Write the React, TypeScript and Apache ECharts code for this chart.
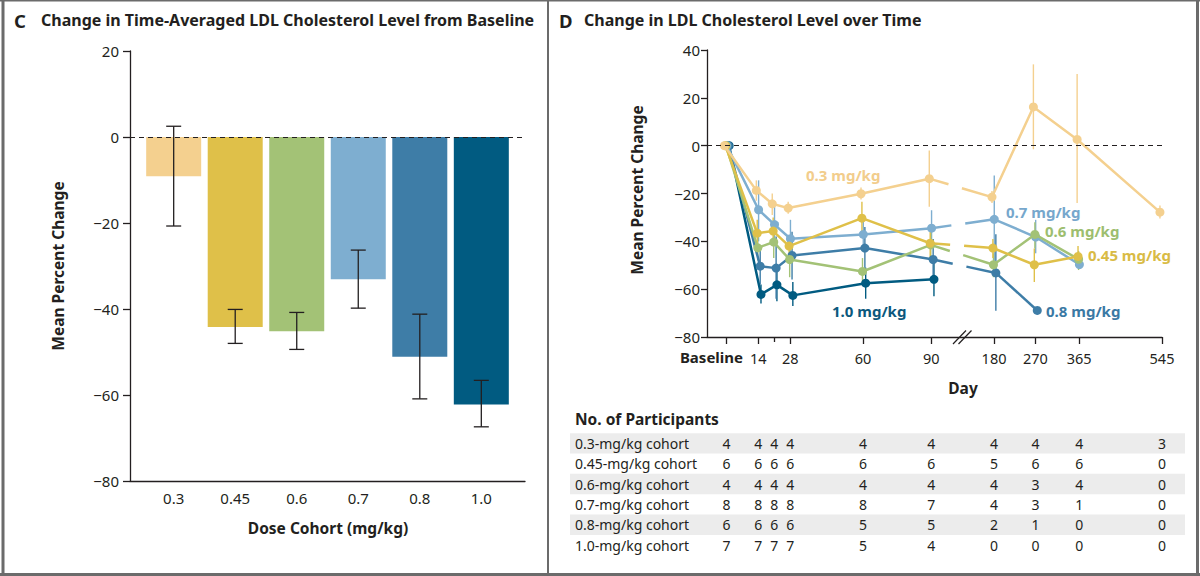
import React, { useEffect, useRef } from "react";
import * as echarts from "echarts";

// ---------- Panel C data ----------
const DOSE_COHORTS = ["0.3", "0.45", "0.6", "0.7", "0.8", "1.0"];
const COHORT_COLORS = ["#F4D08F", "#DFC049", "#A3C276", "#7EAED0", "#3E7DA7", "#015B81"];
const AVG_CHANGE = [-9.1, -44.2, -45.2, -33.1, -51.1, -62.2];
const AVG_ERR_HIGH = [2.5, -40.1, -40.8, -26.3, -41.2, -56.6];
const AVG_ERR_LOW = [-20.7, -48.0, -49.4, -39.8, -60.9, -67.4];

// ---------- Panel D data ----------
const VISIT_DAYS = [0, 14, 21, 28, 60, 90, 180, 270, 365, 545];
const DAY_LABEL_DAYS = [14, 28, 60, 90, 180, 270, 365, 545];
const BASELINE_LABEL = "Baseline";

const MEAN_03 = [0, -18.7, -24.3, -26.1, -20.1, -13.8, -21.5, 16.2, 2.6, -27.8];
const MEAN_045 = [0, -36.6, -35.7, -42.0, -30.3, -40.8, -42.8, -49.8, -46.3, null];
const MEAN_06 = [0, -42.7, -40.3, -47.6, -52.6, -41.5, -49.8, -37.1, -47.5, null];
const MEAN_07 = [0, -26.8, -33.0, -38.9, -37.1, -34.5, -30.8, -38.2, -49.7, null];
const MEAN_08 = [0, -50.4, -51.2, -45.9, -42.8, -47.6, -53.2, -68.9, null, null];
const MEAN_10 = [0, -62.2, -58.2, -62.6, -57.5, -55.9, null, null, null, null];

const ERR_LOW_03 = [null, -23, -29, -28.5, -22.5, -25.5, -24, -1.5, -24, -30.5];
const ERR_HIGH_03 = [null, -14.5, -20, -23.5, -17.5, -2, -19, 34, 30, -25];
const ERR_LOW_045 = [null, -42, -41, -46, -37, -47, -47, -57, -50, null];
const ERR_HIGH_045 = [null, -31, -30, -38, -23.5, -35, -39, -43, -42, null];
const ERR_LOW_06 = [null, -48, -47, -55, -58, -48, -55, -43, -52, null];
const ERR_HIGH_06 = [null, -37, -34, -40, -47, -35, -45, -32, -44, null];
const ERR_LOW_07 = [null, -40, -40, -46, -44, -42, -50, -45, null, null];
const ERR_HIGH_07 = [null, -14.5, -24, -31, -30, -27, -12.5, -31, null, null];
const ERR_LOW_08 = [null, -58, -64, -56, -52, -56, -69, null, null, null];
const ERR_HIGH_08 = [null, -43, -38, -36, -34, -39, -37, null, null, null];
const ERR_LOW_10 = [null, -66, -65, -67, -64, -63, null, null, null, null];
const ERR_HIGH_10 = [null, -58, -51, -57, -51, -48, null, null, null, null];

const MEANS = [MEAN_03, MEAN_045, MEAN_06, MEAN_07, MEAN_08, MEAN_10];
const ERR_LOWS = [ERR_LOW_03, ERR_LOW_045, ERR_LOW_06, ERR_LOW_07, ERR_LOW_08, ERR_LOW_10];
const ERR_HIGHS = [ERR_HIGH_03, ERR_HIGH_045, ERR_HIGH_06, ERR_HIGH_07, ERR_HIGH_08, ERR_HIGH_10];
const SERIES_LABELS = ["0.3 mg/kg", "0.45 mg/kg", "0.6 mg/kg", "0.7 mg/kg", "0.8 mg/kg", "1.0 mg/kg"];

// ---------- Participants table ----------
const TABLE_ROWS = [
  "0.3-mg/kg cohort",
  "0.45-mg/kg cohort",
  "0.6-mg/kg cohort",
  "0.7-mg/kg cohort",
  "0.8-mg/kg cohort",
  "1.0-mg/kg cohort",
];
const N_03 = [4, 4, 4, 4, 4, 4, 4, 4, 4, 3];
const N_045 = [6, 6, 6, 6, 6, 6, 5, 6, 6, 0];
const N_06 = [4, 4, 4, 4, 4, 4, 4, 3, 4, 0];
const N_07 = [8, 8, 8, 8, 8, 7, 4, 3, 1, 0];
const N_08 = [6, 6, 6, 6, 5, 5, 2, 1, 0, 0];
const N_10 = [7, 7, 7, 7, 5, 4, 0, 0, 0, 0];
const TABLE_VALUES = [N_03, N_045, N_06, N_07, N_08, N_10];

// ---------- layout / style ----------
const FONT = '"Noto Sans", "DejaVu Sans", sans-serif';
const INK = "#231f20";
const FRAME = "#6b6b6b";
const TEXT_COLORS = ["#F2CD8C", "#D9BB45", "#9DBE6F", "#76A7CC", "#3A79A4", "#0B587D"];
// axis break: day values beyond the break are compressed
const BREAK_T = 117.55;
const SECOND_SCALE = 0.2022;
const tOf = (d: number) => (d <= 90 ? d : BREAK_T + (d - 180) * SECOND_SCALE);
const T_MIN = -8.57;
const T_MAX = tOf(545);
// small horizontal offsets so overlapping markers stay visible
const JITTER = [-0.9, -0.5, -0.25, 0.1, 0.8, 1.15];
const LABEL_POS = [
  [806, 175],
  [1088, 255],
  [1045, 231],
  [1006, 212],
  [1046, 311],
  [832, 311],
];

const minus = (v: number) => (v < 0 ? "\u2212" + Math.abs(v) : String(v));

function buildOption() {
  const series: any[] = [];

  // Panel C bars
  series.push({
    type: "bar",
    xAxisIndex: 0,
    yAxisIndex: 0,
    barWidth: 55,
    data: AVG_CHANGE.map((v, i) => ({ value: [i + 1, v], itemStyle: { color: COHORT_COLORS[i] } })),
    markLine: {
      silent: true,
      symbol: "none",
      label: { show: false },
      lineStyle: { type: [5, 4], color: INK, width: 1.2 },
      data: [{ yAxis: 0 }],
    },
    z: 2,
  });
  series.push({
    type: "custom",
    xAxisIndex: 0,
    yAxisIndex: 0,
    data: AVG_CHANGE.map((_, i) => [i + 1, AVG_ERR_LOW[i], AVG_ERR_HIGH[i]]),
    encode: { x: 0, y: [1, 2] },
    renderItem: (_p: any, api: any) => {
      const x = api.value(0);
      const a = api.coord([x, api.value(1)]);
      const b = api.coord([x, api.value(2)]);
      const hw = 7.5;
      const st = { stroke: INK, lineWidth: 1.3 };
      return {
        type: "group",
        children: [
          { type: "line", shape: { x1: a[0], y1: a[1], x2: b[0], y2: b[1] }, style: st },
          { type: "line", shape: { x1: a[0] - hw, y1: a[1], x2: a[0] + hw, y2: a[1] }, style: st },
          { type: "line", shape: { x1: b[0] - hw, y1: b[1], x2: b[0] + hw, y2: b[1] }, style: st },
        ],
      };
    },
    z: 5,
  });

  // Panel D zero line
  series.push({
    type: "line",
    xAxisIndex: 1,
    yAxisIndex: 1,
    data: [],
    markLine: {
      silent: true,
      symbol: "none",
      label: { show: false },
      lineStyle: { type: [5, 4], color: INK, width: 1.2 },
      data: [{ yAxis: 0 }],
    },
    z: 1,
  });

  // Panel D series, drawn darkest first
  const order = [5, 4, 3, 2, 1, 0];
  order.forEach((c, k) => {
    const color = COHORT_COLORS[c];
    const mean = MEANS[c];
    const px = (i: number) => tOf(VISIT_DAYS[i]) + JITTER[c];
    const errData: any[] = [];
    VISIT_DAYS.forEach((_, i) => {
      if (mean[i] != null && ERR_LOWS[c][i] != null) errData.push([px(i), ERR_LOWS[c][i], ERR_HIGHS[c][i]]);
    });
    series.push({
      type: "custom",
      xAxisIndex: 1,
      yAxisIndex: 1,
      data: errData,
      encode: { x: 0, y: [1, 2] },
      renderItem: (_p: any, api: any) => {
        const x = api.value(0);
        const a = api.coord([x, api.value(1)]);
        const b = api.coord([x, api.value(2)]);
        return {
          type: "line",
          shape: { x1: a[0], y1: a[1], x2: b[0], y2: b[1] },
          style: { stroke: color, lineWidth: 1.4 },
        };
      },
      z: 2 + k * 0.01,
    });
    const segA: any[] = [];
    const segC: any[] = [];
    VISIT_DAYS.forEach((d, i) => {
      if (mean[i] == null) return;
      if (d <= 90) segA.push([px(i), mean[i]]);
      else segC.push([px(i), mean[i]]);
    });
    const common = {
      type: "line",
      xAxisIndex: 1,
      yAxisIndex: 1,
      symbol: "circle",
      symbolSize: 9,
      itemStyle: { color },
      lineStyle: { color, width: 2.5 },
      z: 3 + k * 0.1,
    };
    series.push({ ...common, data: segA });
    if (segC.length) {
      series.push({ ...common, data: segC });
      series.push({
        ...common,
        symbol: "none",
        data: [
          [px(5), mean[5]],
          [px(6), mean[6]],
        ],
        lineStyle: { color, width: 2.5, type: [20, 14, 200] },
      });
    }
  });

  const tickDays = VISIT_DAYS.filter((d) => d !== 21).map(tOf);
  const labelT = DAY_LABEL_DAYS.map(tOf);

  return {
    animation: false,
    backgroundColor: "#ffffff",
    textStyle: { fontFamily: FONT },
    grid: [
      { left: 130, top: 51, width: 395, height: 430 },
      { left: 707, top: 50, width: 455, height: 287 },
    ],
    xAxis: [
      {
        gridIndex: 0,
        type: "value",
        position: "bottom",
        min: 0.29,
        max: 6.71,
        axisLine: { onZero: false, lineStyle: { color: INK, width: 1.3 } },
        axisTick: { show: false },
        splitLine: { show: false },
        axisLabel: {
          customValues: [1, 2, 3, 4, 5, 6],
          formatter: (v: number) => DOSE_COHORTS[Math.round(v) - 1],
          fontSize: 15,
          color: INK,
          margin: 9,
          fontFamily: FONT,
        },
      },
      {
        gridIndex: 1,
        type: "value",
        position: "bottom",
        min: T_MIN,
        max: T_MAX,
        axisLine: { onZero: false, lineStyle: { color: INK, width: 1.3 } },
        axisTick: { customValues: tickDays, length: 7, lineStyle: { color: INK, width: 1.3 } },
        splitLine: { show: false },
        axisLabel: {
          customValues: labelT,
          formatter: (v: number) => {
            const idx = labelT.findIndex((t) => Math.abs(t - v) < 0.01);
            return idx >= 0 ? String(DAY_LABEL_DAYS[idx]) : "";
          },
          fontSize: 14.5,
          color: INK,
          margin: 13,
          fontFamily: FONT,
        },
      },
      {
        gridIndex: 1,
        type: "value",
        position: "bottom",
        offset: 0,
        min: T_MIN,
        max: T_MAX,
        axisLine: { show: false, onZero: false },
        axisTick: { customValues: [tOf(21)], length: 5, lineStyle: { color: INK, width: 1.3 } },
        splitLine: { show: false },
        axisLabel: { show: false },
      },
    ],
    yAxis: [
      {
        gridIndex: 0,
        type: "value",
        min: -80,
        max: 20,
        interval: 20,
        axisLine: { show: true, onZero: false, lineStyle: { color: INK, width: 1.3 } },
        axisTick: { show: true, length: 7, lineStyle: { color: INK, width: 1.3 } },
        splitLine: { show: false },
        axisLabel: { formatter: minus, fontSize: 15, color: INK, margin: 11, fontFamily: FONT },
      },
      {
        gridIndex: 1,
        type: "value",
        min: -80,
        max: 40,
        interval: 20,
        axisLine: { show: true, onZero: false, lineStyle: { color: INK, width: 1.3 } },
        axisTick: { show: true, length: 6, lineStyle: { color: INK, width: 1.3 } },
        splitLine: { show: false },
        axisLabel: { formatter: minus, fontSize: 15, color: INK, margin: 7, fontFamily: FONT },
      },
    ],
    series,
  };
}

function txt(text: string, x: number, y: number, size: number, opts: any = {}) {
  return {
    type: "text",
    x,
    y,
    rotation: opts.rotation || 0,
    silent: true,
    z: 100,
    style: {
      text,
      fill: opts.color || INK,
      font: `${opts.bold ? "bold " : ""}${size}px ${FONT}`,
      align: opts.align || "left",
      verticalAlign: "middle",
      textAlign: opts.align || "left",
      textVerticalAlign: "middle",
    },
  };
}

function buildGraphic(chart: any) {
  const g: any[] = [];
  // frame
  const fl = (x1: number, y1: number, x2: number, y2: number, w: number) => ({
    type: "line",
    silent: true,
    z: 100,
    shape: { x1, y1, x2, y2 },
    style: { stroke: FRAME, lineWidth: w },
  });
  g.push(fl(0, 0.75, 1200, 0.75, 1.5));
  g.push(fl(3, 0, 3, 576, 3));
  g.push(fl(1197.5, 0, 1197.5, 576, 3));
  g.push(fl(0, 574.5, 1200, 574.5, 3));
  g.push(fl(548, 0, 548, 576, 2));

  // titles
  g.push(txt("C", 14, 20, 18.5, { bold: true }));
  g.push(txt("Change in Time-Averaged LDL Cholesterol Level from Baseline", 41, 20, 16, { bold: true }));
  g.push(txt("D", 559, 20, 18.5, { bold: true }));
  g.push(txt("Change in LDL Cholesterol Level over Time", 584, 20, 16, { bold: true }));

  // axis names
  g.push(txt("Mean Percent Change", 58, 266, 15.5, { bold: true, align: "center", rotation: Math.PI / 2 }));
  g.push(txt("Dose Cohort (mg/kg)", 328, 528, 15.5, { bold: true, align: "center" }));
  g.push(txt("Mean Percent Change", 637, 190, 15.5, { bold: true, align: "center", rotation: Math.PI / 2 }));
  g.push(txt("Day", 963, 388, 15.5, { bold: true, align: "center" }));

  // baseline tick label (sits left of its tick, as in the original)
  g.push(txt(BASELINE_LABEL, 743, 357, 15, { bold: true, align: "right" }));

  // axis break marks
  g.push({ type: "line", z: 101, silent: true, shape: { x1: 953, y1: 344, x2: 966, y2: 330.5 }, style: { stroke: INK, lineWidth: 1.2 } });
  g.push({ type: "line", z: 101, silent: true, shape: { x1: 958.5, y1: 344, x2: 971.5, y2: 330.5 }, style: { stroke: INK, lineWidth: 1.2 } });

  // series labels
  SERIES_LABELS.forEach((s, i) => {
    g.push(txt(s, LABEL_POS[i][0], LABEL_POS[i][1], 15, { bold: true, color: TEXT_COLORS[i] }));
  });

  // table
  g.push(txt("No. of Participants", 575, 419, 15.5, { bold: true }));
  const rowY0 = 443.3;
  const rowH = 20.35;
  TABLE_ROWS.forEach((r, i) => {
    const y = rowY0 + i * rowH;
    if (i % 2 === 0) {
      g.push({
        type: "rect",
        silent: true,
        z: 90,
        shape: { x: 570, y: y - rowH / 2, width: 615, height: rowH },
        style: { fill: "#ececec" },
      });
    }
    g.push(txt(r, 575, y, 14));
    VISIT_DAYS.forEach((d, j) => {
      const px = chart.convertToPixel({ xAxisIndex: 1 }, tOf(d));
      g.push(txt(String(TABLE_VALUES[i][j]), px, y, 14, { align: "center" }));
    });
  });
  return g;
}

export default function App() {
  const ref = useRef<HTMLDivElement>(null);
  useEffect(() => {
    document.body.style.margin = "0";
    if (!ref.current) return;
    const chart = echarts.init(ref.current, null, { renderer: "svg" });
    chart.setOption(buildOption() as any);
    chart.setOption({ graphic: buildGraphic(chart) } as any);
    return () => chart.dispose();
  }, []);
  return <div ref={ref} style={{ width: 1200, height: 576 }} />;
}
